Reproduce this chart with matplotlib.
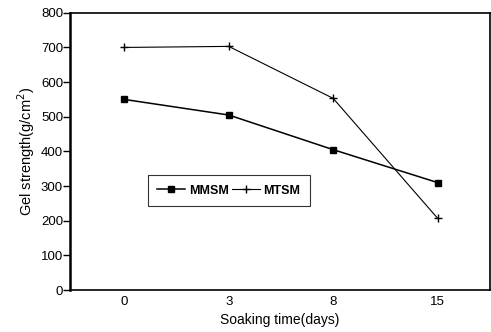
import matplotlib.pyplot as plt

plt.rcParams['font.family'] = ['Liberation Sans', 'DejaVu Sans']

# Soaking time categories and gel strength (g/cm2)
days = ['0', '3', '8', '15']
mmsm = [550, 505, 405, 310]
mtsm = [700, 703, 553, 207]

fig = plt.figure(figsize=(4.91, 3.32), dpi=100)
ax = fig.add_axes([0.1426, 0.1265, 0.855, 0.835])

x = range(len(days))
ax.plot(x, mmsm, color='black', lw=1.1, marker='s', ms=4.5, label='MMSM')
ax.plot(x, mtsm, color='black', lw=0.8, marker='+', ms=6, mew=1.0, label='MTSM')

ax.set_xlim(-0.52, 3.5)
ax.set_ylim(0, 800)
ax.set_yticks(range(0, 801, 100))
ax.set_xticks(list(x))
ax.set_xticklabels(days)
ax.tick_params(axis='x', length=0, pad=4, labelsize=9.5)
ax.tick_params(axis='y', length=5, width=1, labelsize=9.5, pad=0)

for s in ax.spines.values():
    s.set_linewidth(1.2)
ax.spines['left'].set_linewidth(1.8)

ax.set_xlabel('Soaking time(days)', fontsize=10, labelpad=4)
ax.set_ylabel('Gel strength(g/cm$^2$)', fontsize=10.5, labelpad=3)

leg = ax.legend(loc='lower left', bbox_to_anchor=(0.186, 0.303), ncol=2,
                prop={'size': 9, 'weight': 'bold'},
                frameon=True, fancybox=False, edgecolor='black', handlelength=2.2,
                columnspacing=0.3, handletextpad=0.3, borderpad=0.75,
                borderaxespad=0)
leg.get_frame().set_linewidth(0.8)

fig.savefig('out.png', dpi=100)
